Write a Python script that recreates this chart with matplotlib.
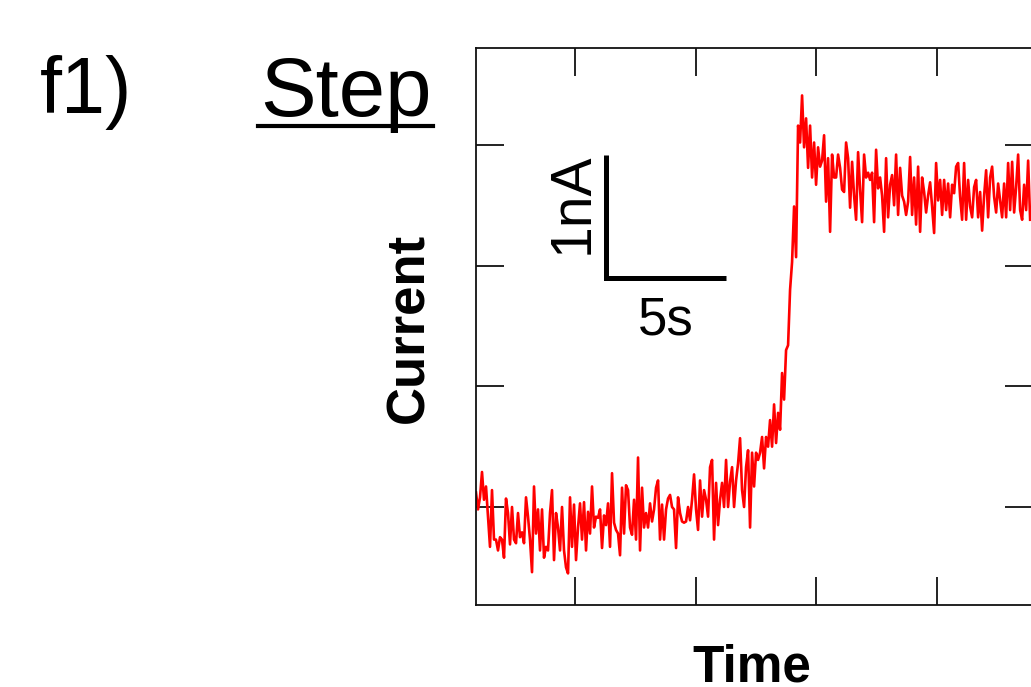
import numpy as np
import matplotlib
matplotlib.use("Agg")
import matplotlib.pyplot as plt
from matplotlib.lines import Line2D

plt.rcParams['font.family'] = ['Liberation Sans', 'DejaVu Sans']

t_start = 0.88      # s
dt = 0.083          # s between samples

current_baseline = [
    0.12, -0.02, 0.08, 0.29, 0.06, 0.17, -0.08, -0.33, 0.14, -0.27, -0.27, -0.36,
    -0.25, -0.27, -0.42, 0.07, -0.05, -0.31, 0.00, -0.27, -0.30, -0.05, -0.25, -0.21,
    -0.30, 0.08, -0.08, -0.27, -0.54, 0.17, -0.22, -0.02, -0.36, -0.02, -0.42, -0.33,
    -0.36, -0.05, 0.14, -0.44, -0.05, -0.17, -0.36, 0.00, -0.36, -0.50, -0.55, 0.08,
    -0.33, 0.02, -0.44, -0.17, 0.03, -0.27, 0.04, -0.36, -0.04, -0.22, 0.17, -0.17,
    -0.08, -0.09, -0.02, -0.34, -0.07, -0.15, 0.03, -0.33, 0.28, -0.13, -0.19, -0.22,
    -0.40, 0.16, -0.22, 0.18, 0.14, -0.17, -0.23, 0.06, -0.27, 0.41, -0.36, 0.16,
    -0.17, -0.05, -0.17, 0.03, -0.12, -0.02, 0.16, 0.22, -0.27, 0.02, -0.27,
    -0.02, 0.07, 0.10, 0.00, -0.02, -0.34, 0.08, -0.05, -0.12, -0.13, -0.12, 0.00,
    -0.11, 0.06, 0.27, -0.02, -0.19, 0.22, -0.08, 0.14, 0.06, -0.08, 0.33, 0.39,
    -0.27, 0.20, -0.15, 0.06, 0.20, 0.00, 0.39, 0.00, 0.21, 0.33, 0.00, 0.22,
    0.36, 0.57, 0.14, 0.00, 0.33, 0.47, -0.17, 0.45, 0.17, 0.45, 0.39, 0.45,
    0.58, 0.32,
]

current_rise = [
    0.58, 0.50, 0.72, 0.50, 0.85, 0.53, 0.78, 0.64, 1.11, 0.89, 1.30, 1.34,
    1.80, 2.03, 2.49, 2.07, 3.16, 3.02, 3.41, 2.98, 3.22, 2.81, 3.16, 2.73,
    3.02, 2.67, 2.98, 2.82, 2.87, 3.08, 2.53, 2.89, 2.28,
]

current_plateau = [
    2.92, 2.73, 2.73, 2.92, 2.81, 2.63, 2.61, 3.02, 2.89, 2.48, 2.86, 2.58,
    2.38, 2.94, 2.63, 2.36, 2.92, 2.73, 2.77, 2.71, 2.77, 2.36, 2.96, 2.64,
    2.73, 2.58, 2.28, 2.89, 2.40, 2.67, 2.75, 2.50, 2.92, 2.42, 2.81, 2.58,
    2.53, 2.42, 2.53, 2.90, 2.42, 2.73, 2.34, 2.82, 2.28, 2.73, 2.61, 2.44,
    2.58, 2.69,
    2.49, 2.27, 2.85, 2.54, 2.71, 2.42, 2.71, 2.46, 2.68, 2.40, 2.67, 2.60,
    2.82, 2.85, 2.57, 2.38, 2.85, 2.38, 2.71, 2.49, 2.40, 2.65, 2.71, 2.40,
    2.61, 2.29, 2.58, 2.79, 2.40, 2.73, 2.82, 2.57, 2.44, 2.68, 2.54, 2.40,
    2.68, 2.40, 2.85, 2.46, 2.86, 2.44, 2.65, 2.92, 2.46, 2.38, 2.67, 2.46,
    2.87, 2.38,
]

current = np.array(current_baseline + current_rise + current_plateau)
time = t_start + dt * np.arange(len(current))

W, H = 1031, 687
fig = plt.figure(figsize=(W / 100, H / 100), dpi=100)
ax = fig.add_axes([476 / W, 82 / H, 557 / W, 557 / H])

ax.plot(time, current, color='#ff0000', lw=1.9)

ax.set_xlim(0.88, 23.99)
ax.set_ylim(-0.812, 3.803)
ax.set_xticks([5, 10, 15, 20])
ax.set_yticks([0, 1, 2, 3])
ax.tick_params(which='both', direction='in', length=20, width=1.3, color='#111111',
               top=True, right=True, labelbottom=False, labelleft=False)
for sp in ax.spines.values():
    sp.set_linewidth(1.3)
    sp.set_color('#111111')

# scale bar: 1 nA / 5 s
sb_x, sb_y = 6.27, 1.90
ax.plot([sb_x, sb_x, sb_x + 5], [sb_y + 1.02, sb_y, sb_y], color='black', lw=3.6,
        solid_joinstyle='miter', solid_capstyle='butt')
ax.text(sb_x - 1.4, sb_y + 0.62, '1nA', rotation=90, ha='center', va='center', fontsize=41)
ax.text(sb_x + 2.5, sb_y - 0.47, '5s', ha='center', va='baseline', fontsize=38)

fig.text(409 / W, 1 - 328 / H, 'Current', rotation=90, ha='center', va='center',
         fontsize=38, fontweight='bold')
fig.text(752 / W, 1 - 682 / H, 'Time', ha='center', va='baseline', fontsize=37,
         fontweight='bold')

fig.text(40 / W, 1 - 113 / H, 'f1)', ha='left', va='baseline', fontsize=57)
fig.text(260 / W, 1 - 116 / H, 'Step', ha='left', va='baseline', fontsize=60)
fig.add_artist(Line2D([258 / W, 433 / W], [1 - 126 / H, 1 - 126 / H], color='black',
                      lw=3))

fig.savefig('out.png', dpi=100)
